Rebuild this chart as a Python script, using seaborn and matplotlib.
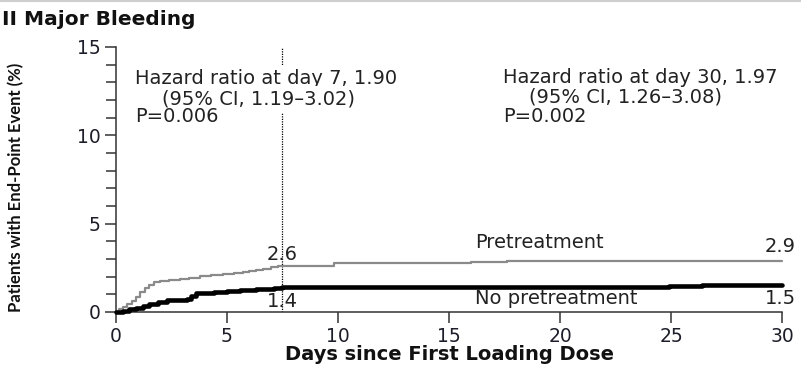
import numpy as np
import pandas as pd
import seaborn as sns
import matplotlib.pyplot as plt
from matplotlib.lines import Line2D
from matplotlib.ticker import MultipleLocator

# Kaplan-Meier cumulative incidence (%) of major bleeding by day
pre_days = [0, 0.15, 0.3, 0.5, 0.7, 0.9, 1.1, 1.3, 1.5, 1.7, 2.0, 2.4, 2.9, 3.3,
            3.8, 4.3, 4.8, 5.3, 5.7, 6.0, 6.3, 6.6, 7.0, 7.3, 7.5, 9.8, 13.0,
            16.0, 17.6, 30.0]
pre_pct = [0, 0.15, 0.3, 0.45, 0.65, 0.85, 1.15, 1.35, 1.55, 1.7, 1.75, 1.8,
           1.87, 1.95, 2.04, 2.1, 2.15, 2.2, 2.26, 2.3, 2.38, 2.45, 2.55, 2.58,
           2.6, 2.75, 2.8, 2.85, 2.9, 2.9]

nopre_days = [0, 0.3, 0.6, 0.9, 1.2, 1.5, 1.9, 2.3, 3.2, 3.4, 3.6, 4.0, 4.4,
              5.0, 5.6, 6.3, 7.1, 7.3, 7.5, 24.9, 26.4, 30.0]
nopre_pct = [0, 0.08, 0.15, 0.25, 0.35, 0.45, 0.55, 0.68, 0.73, 0.9, 1.05, 1.1,
             1.15, 1.2, 1.24, 1.28, 1.33, 1.37, 1.4, 1.45, 1.5, 1.5]

landmark_day = 7.5
pre_day7, nopre_day7 = 2.6, 1.4
pre_day30, nopre_day30 = 2.9, 1.5

x_ticks = [0, 5, 10, 15, 20, 25, 30]
y_ticks = [0, 5, 10, 15]

hr7_lines = ["Hazard ratio at day 7, 1.90", "(95% CI, 1.19\u20133.02)", "P=0.006"]
hr30_lines = ["Hazard ratio at day 30, 1.97", "(95% CI, 1.26\u20133.08)", "P=0.002"]

pre = pd.DataFrame({"day": pre_days, "pct": pre_pct})
nopre = pd.DataFrame({"day": nopre_days, "pct": nopre_pct})

sns.set_theme(style="ticks")
plt.rcParams["font.family"] = ["DejaVu Sans"]

ink = "#1e1e2a"
fig = plt.figure(figsize=(8.01, 3.68), dpi=100)
ax = fig.add_axes([0.1448, 0.1522, 0.8315, 0.7201])

sns.lineplot(data=pre, x="day", y="pct", ax=ax, color="#8a8a8a", lw=1.6,
             drawstyle="steps-post", estimator=None, clip_on=False, zorder=3)
sns.lineplot(data=nopre, x="day", y="pct", ax=ax, color="black", lw=3.3,
             drawstyle="steps-post", estimator=None, clip_on=False, zorder=4)

ax.axvline(landmark_day, color="black", lw=0.9, ls=(0, (1, 1)), zorder=2)

ax.set_xlim(0, 30)
ax.set_ylim(0, 15)
ax.set_xticks(x_ticks)
ax.set_yticks(y_ticks)
ax.yaxis.set_minor_locator(MultipleLocator(1))
ax.tick_params(axis="both", which="major", direction="out", length=8,
               width=1.1, color="#333333", labelsize=13.5, labelcolor=ink)
ax.tick_params(axis="y", which="minor", direction="out", length=7,
               width=1.1, color="#333333")
ax.tick_params(axis="x", pad=3)
ax.tick_params(axis="y", pad=3)
for side in ("top", "right"):
    ax.spines[side].set_visible(False)
for side in ("left", "bottom"):
    ax.spines[side].set_linewidth(1.1)
    ax.spines[side].set_color("#333333")

ax.set_xlabel("Days since First Loading Dose", fontsize=14, fontweight="bold",
              color="#111111")
ax.set_ylabel("Patients with End-Point Event (%)", fontsize=12,
              fontweight="bold", color="#111111", family=["Lato", "DejaVu Sans"])
ax.xaxis.set_label_coords(0.5015, -0.125)
ax.yaxis.set_label_coords(-0.138, 0.472)

txt = dict(fontsize=14, color="#222222", va="center", ha="left")
box = dict(facecolor="white", edgecolor="none", pad=3)
ax.text(0.86, 13.19, hr7_lines[0], bbox=box, zorder=5, **txt)
ax.text(2.07, 12.05, hr7_lines[1], bbox=box, zorder=5, **txt)
ax.text(0.86, 11.04, hr7_lines[2], zorder=5, **txt)
ax.text(17.43, 13.3, hr30_lines[0], **txt)
ax.text(18.6, 12.17, hr30_lines[1], **txt)
ax.text(17.43, 11.09, hr30_lines[2], **txt)

ax.text(16.17, 3.96, "Pretreatment", **txt)
ax.text(16.17, 0.74, "No pretreatment", **txt)

num = dict(fontsize=14, color="#222222", va="center")
ax.text(landmark_day, 3.28, f"{pre_day7}", ha="center", **num)
ax.text(landmark_day, 0.57, f"{nopre_day7}", ha="center", **num)
ax.text(30.63, 3.68, f"{pre_day30}", ha="right", **num)
ax.text(30.63, 0.79, f"{nopre_day30}", ha="right", **num)

fig.text(0.002, 0.948, "II Major Bleeding", fontsize=14.5, fontweight="bold",
         color="#111111", ha="left", va="center")
fig.add_artist(Line2D([0, 1], [0.997, 0.997], transform=fig.transFigure,
                      color="#cfcfcf", lw=1.5))

fig.savefig("out.png", dpi=100)
